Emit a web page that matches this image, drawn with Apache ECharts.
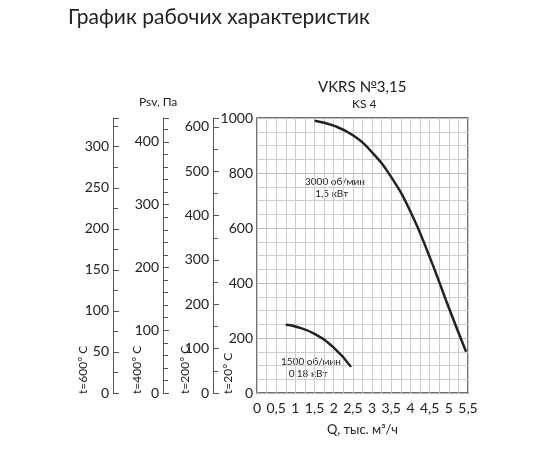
<!DOCTYPE html>
<html>
<head>
<meta charset="utf-8">
<script src="https://cdn.jsdelivr.net/npm/echarts@6/dist/echarts.min.js"></script>
<style>html,body{margin:0;background:#fff}#c{width:550px;height:450px}</style>
</head>
<body>
<div id="c"></div>
<script>
var hiCurve = [[1.5, 990], [2, 972], [2.5, 937], [3, 875], [3.5, 785], [4, 660], [4.5, 495], [5, 310], [5.45, 150]];
var loCurve = [[0.75, 248], [1, 242], [1.5, 215], [2, 165], [2.45, 95]];
var tempAxes = [
    {name: 't=600° C', max: 335, interval: 50, minor: 2, left: 113, labelX: 83},
    {name: 't=400° C', max: 438, interval: 100, minor: 5, left: 163, labelX: 137},
    {name: 't=200° C', max: 620, interval: 100, minor: 2, left: 213, labelX: 185}
];
var mainTempName = 't=20° C';

var font = 'Lato';
var ink = '#222';
var gridTop = 118, gridBottom = 57;
var my_chart = echarts.init(document.getElementById('c'));

var grids = [], yAxes = [], xAxes = [], graphics = [];
tempAxes.forEach(function (a, i) {
    grids.push({left: a.left, width: 1, top: gridTop, bottom: gridBottom});
    xAxes.push({gridIndex: i, show: false, type: 'value'});
    yAxes.push({
        gridIndex: i, type: 'value', min: 0, max: a.max, interval: a.interval,
        axisLine: {show: true, lineStyle: {color: '#555'}},
        axisTick: {show: true, inside: true, length: 6, lineStyle: {color: '#555'}},
        minorTick: {show: true, splitNumber: a.minor, length: 5, lineStyle: {color: '#555'}},
        splitLine: {show: false},
        axisLabel: {color: ink, fontSize: 14, fontFamily: font, margin: 4, showMaxLabel: false}
    });
    graphics.push({type: 'text', x: a.labelX, y: 394, rotation: Math.PI / 2,
        style: {text: a.name, fill: ink, font: '12px ' + font, verticalAlign: 'middle'}});
});
graphics.push({type: 'text', x: 228, y: 394, rotation: Math.PI / 2,
    style: {text: mainTempName, fill: ink, font: '12px ' + font, verticalAlign: 'middle'}});

var mi = tempAxes.length;
grids.push({left: 257, right: 82, top: gridTop, bottom: gridBottom, show: true, borderColor: '#444', borderWidth: 1.5});
xAxes.push({
    gridIndex: mi, type: 'value', min: 0, max: 5.5, interval: 0.5,
    name: 'Q, тыс. м³/ч', nameLocation: 'middle', nameGap: 30,
    nameTextStyle: {color: ink, fontSize: 13, fontFamily: font},
    axisLine: {show: false}, axisTick: {show: false},
    axisLabel: {color: ink, fontSize: 14, fontFamily: font, margin: 8,
        formatter: function (v) { return String(v).replace('.', ','); }},
    splitLine: {show: true, lineStyle: {color: '#ccc'}},
    minorSplitLine: {show: true, lineStyle: {color: '#ccc'}},
    minorTick: {show: false, splitNumber: 2}
});
yAxes.push({
    gridIndex: mi, type: 'value', min: 0, max: 1000, interval: 200,
    axisLine: {show: false}, axisTick: {show: false},
    axisLabel: {color: ink, fontSize: 14, fontFamily: font, margin: 4,
        formatter: function (v) { return String(v); }},
    splitLine: {show: true, lineStyle: {color: '#bbb'}},
    minorSplitLine: {show: true, lineStyle: {color: '#ccc'}},
    minorTick: {show: false, splitNumber: 4}
});

graphics.push(
    {type: 'text', left: 68, top: 7, style: {text: 'График рабочих характеристик', fill: ink, font: '21px ' + font}},
    {type: 'text', left: 139, top: 96, style: {text: 'Psv, Па', fill: ink, font: '12px ' + font}},
    {type: 'text', left: 318, top: 80, style: {text: 'VKRS №3,15', fill: ink, font: '15px ' + font}},
    {type: 'text', left: 352, top: 98, style: {text: 'KS 4', fill: ink, font: '12px ' + font}},
    {type: 'text', left: 305, top: 176, style: {text: '3000 об/мин\n    1,5 кВт', fill: ink, font: '10px ' + font, lineHeight: 12}},
    {type: 'text', left: 281, top: 356, style: {text: '1500 об/мин\n   0,18 кВт', fill: ink, font: '10px ' + font, lineHeight: 12}}
);

var lineStyle = {color: '#222', width: 2.5};
my_chart.setOption({
    animation: false,
    grid: grids,
    xAxis: xAxes,
    yAxis: yAxes,
    graphic: graphics,
    series: [
        {type: 'line', xAxisIndex: mi, yAxisIndex: mi, data: hiCurve, smooth: true, showSymbol: false, lineStyle: lineStyle},
        {type: 'line', xAxisIndex: mi, yAxisIndex: mi, data: loCurve, smooth: true, showSymbol: false, lineStyle: lineStyle}
    ]
});
</script>
</body>
</html>
